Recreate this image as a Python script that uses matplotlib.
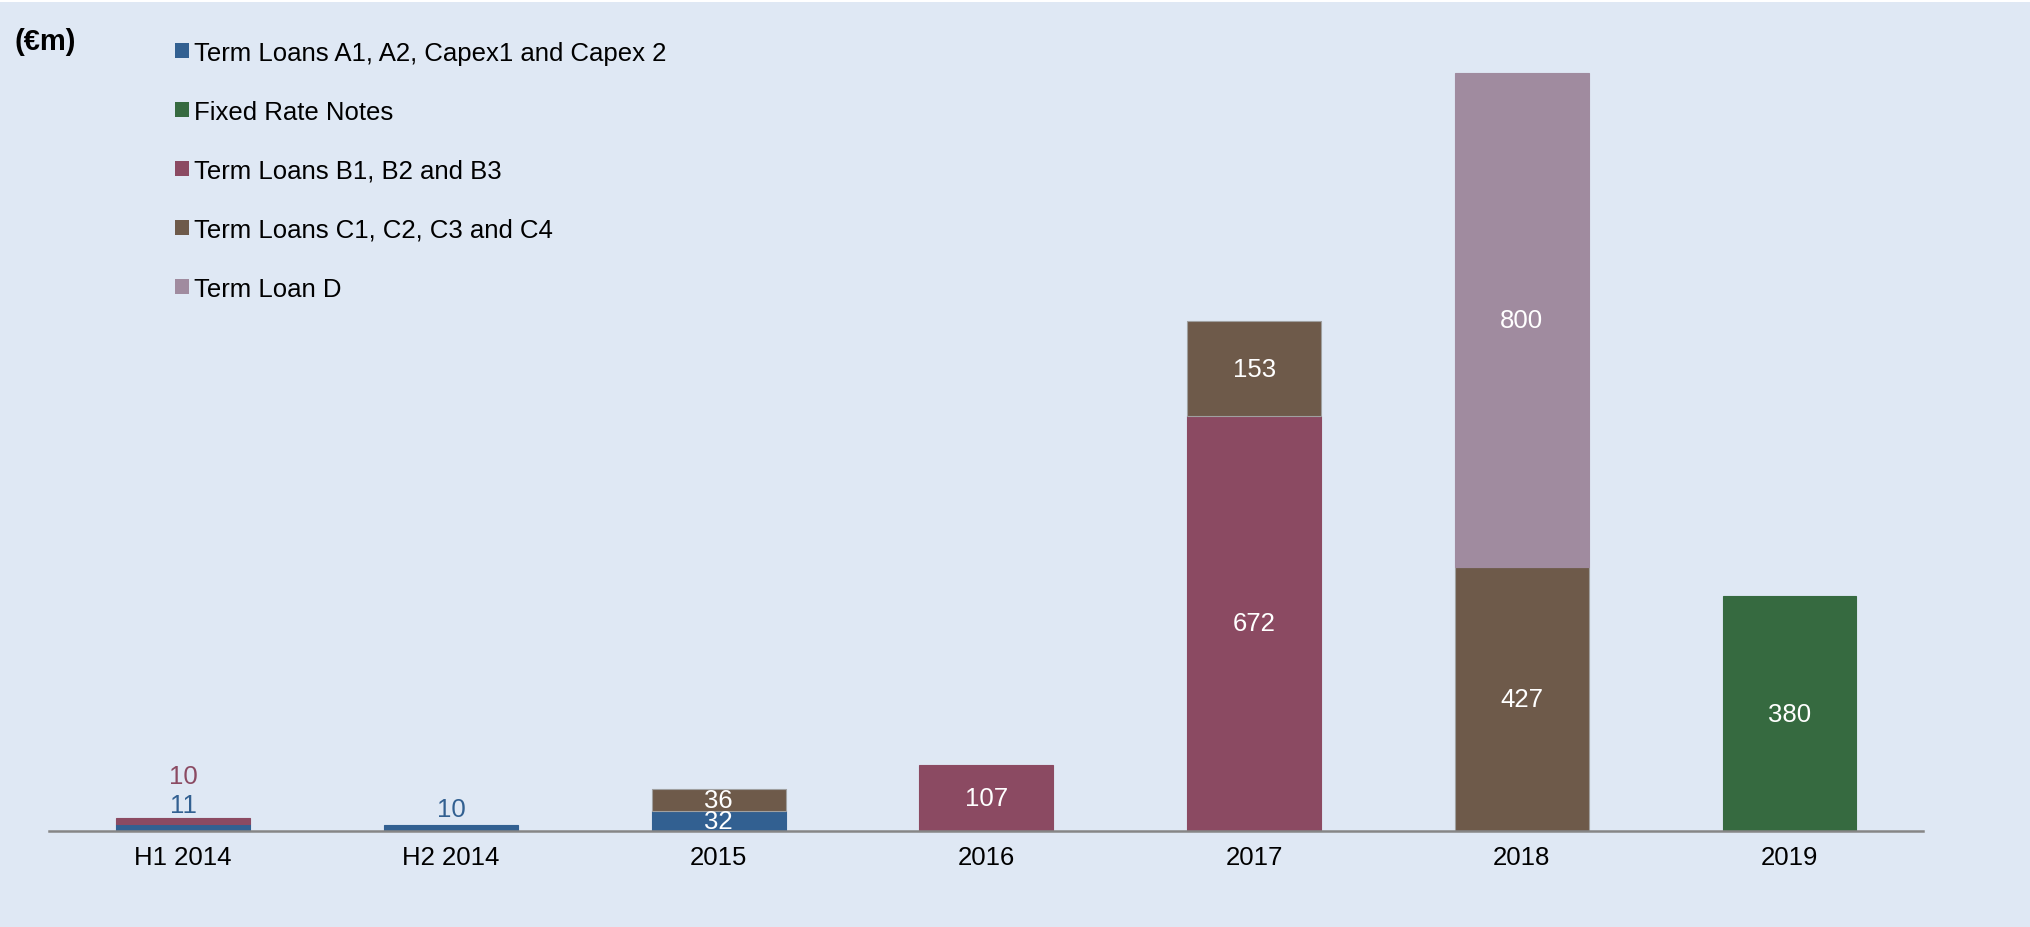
import matplotlib.pyplot as plt
import numpy as np
from matplotlib.patches import Patch, Rectangle

plt.rcParams['font.family'] = ['Liberation Sans', 'DejaVu Sans']

categories = ['H1 2014', 'H2 2014', '2015', '2016', '2017', '2018', '2019']
term_a = [11, 10, 32, 0, 0, 0, 0]
fixed_notes = [0, 0, 0, 0, 0, 0, 380]
term_b = [10, 0, 0, 107, 672, 0, 0]
term_c = [0, 0, 36, 0, 153, 427, 0]
term_d = [0, 0, 0, 0, 0, 800, 0]

series = [
    ('Term Loans A1, A2, Capex1 and Capex 2', term_a, '#326091'),
    ('Fixed Rate Notes', fixed_notes, '#366A40'),
    ('Term Loans B1, B2 and B3', term_b, '#8B4A62'),
    ('Term Loans C1, C2, C3 and C4', term_c, '#6E5A4A'),
    ('Term Loan D', term_d, '#A08B9F'),
]

BG = '#DFE8F4'
FS = 18.5

fig = plt.figure(figsize=(20.31, 9.28), dpi=100, facecolor=BG)
ax = fig.add_axes([0.0243, 0.1035, 0.9227, 0.8653])
ax.set_facecolor(BG)

x = np.arange(len(categories))
bottom = np.zeros(len(categories))
# small stacks get their labels above the bar in the series colour
small = [0, 1]
for name, vals, color in series:
    vals = np.array(vals, dtype=float)
    idx = np.nonzero(vals)[0]
    edge = '#A0A0A0' if name.startswith('Term Loans C') else color
    ax.bar(x[idx], vals[idx], width=0.5, bottom=bottom[idx], color=color,
           edgecolor=edge, linewidth=0.8)
    for i in idx:
        if i in small:
            continue
        ax.text(x[i], bottom[i] + vals[i] / 2, f'{vals[i]:.0f}', ha='center',
                va='center', color='white', fontsize=FS)
    bottom += vals

# labels above the small H1/H2 2014 bars
ax.annotate(f'{term_a[0]}', (x[0], bottom[0]), xytext=(0, 9.5),
            textcoords='offset points', ha='center', va='center',
            color='#326091', fontsize=FS)
ax.annotate(f'{term_b[0]}', (x[0], bottom[0]), xytext=(0, 30),
            textcoords='offset points', ha='center', va='center',
            color='#8B4A62', fontsize=FS)
ax.annotate(f'{term_a[1]}', (x[1], bottom[1]), xytext=(0, 11.5),
            textcoords='offset points', ha='center', va='center',
            color='#326091', fontsize=FS)

ax.set_xlim(-0.5, 6.5)
ax.set_ylim(0, 1300)
ax.set_xticks(x)
ax.set_xticklabels(categories, fontsize=FS)
ax.tick_params(axis='x', length=0, pad=10)
ax.set_yticks([])
for side in ['top', 'right', 'left']:
    ax.spines[side].set_visible(False)
ax.spines['bottom'].set_color('#868686')
ax.spines['bottom'].set_linewidth(1.8)

handles = [Patch(facecolor=c, edgecolor='none', label=n) for n, _, c in series]
fig.legend(handles=handles, loc='upper left', bbox_to_anchor=(0.0862, 0.955),
           frameon=False, fontsize=FS, handlelength=0.55, handleheight=0.55,
           handletextpad=0.2, labelspacing=1.36, borderpad=0, borderaxespad=0)

fig.text(15 / 2031, 1 - 42 / 928, '(€m)', ha='left', va='center',
         fontsize=21, fontweight='bold')

# thin white strip along the top edge
fig.patches.append(Rectangle((0, 1 - 3 / 928), 1, 3 / 928, transform=fig.transFigure,
                             facecolor='white', edgecolor='none'))

fig.savefig('out.png', dpi=100, facecolor=BG)
